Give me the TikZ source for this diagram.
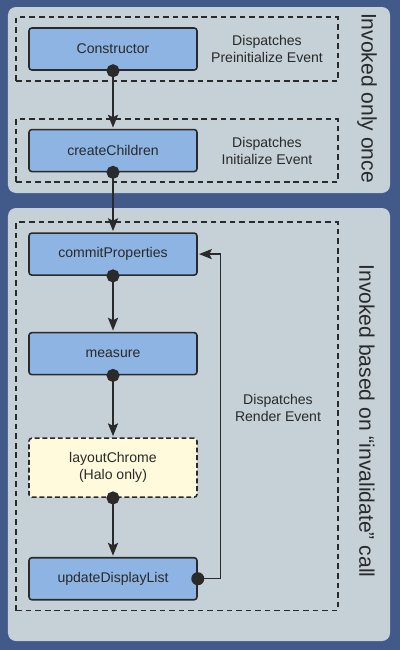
\documentclass[tikz,border=0pt]{standalone}
\usepackage{fontspec}
\setmainfont{Liberation Sans}
\usepackage{tikz}
\usetikzlibrary{arrows.meta,positioning,calc,fit,backgrounds}

\definecolor{frameblue}{HTML}{425A8A}
\definecolor{panelgray}{HTML}{C5D0D7}
\definecolor{stepblue}{HTML}{8DB4E2}
\definecolor{haloyellow}{HTML}{FFFADC}
\definecolor{inkgray}{HTML}{2A2A2A}

\begin{document}
\begin{tikzpicture}[
    font=\fontsize{10}{12}\selectfont,
    node distance=1.45cm,
    method/.style={rectangle, draw=inkgray, line width=1.1pt, fill=stepblue, text=inkgray, minimum width=4.2cm, minimum height=1.05cm, rounded corners=2pt, align=center},
    optional/.style={method, fill=haloyellow, dash pattern=on 3.5pt off 2pt, minimum height=1.475cm},
    note/.style={text=inkgray, align=center},
    group/.style={draw=inkgray, line width=1.2pt, dash pattern=on 4pt off 2.8pt, inner xsep=0.3cm, inner ysep=0.25cm},
    side/.style={text=inkgray, rotate=-90, font=\fontsize{15}{18}\selectfont},
    flow/.style={{Circle[length=0.325cm]}-{Stealth[length=0.32cm,width=0.25cm,inset=0.06cm]}, shorten <=-0.1625cm, shorten >=0.03cm, line width=1.5pt, draw=inkgray},
    loopback/.style={flow, line width=1pt}
]
\useasboundingbox (0,0) rectangle (10,-16.25);

% Invoked only once
\node[method] (constructor) at (2.825,-1.225) {Constructor};
\node[method, below=of constructor] (createchildren) {createChildren};
\node[note] (preinit) at ($(constructor)+(3.85,0)$) {Dispatches\\Preinitialize Event};
\node[note] (init) at ($(createchildren)+(3.85,0)$) {Dispatches\\Initialize Event};

% Invoked on invalidate
\node[method, below=1.5cm of createchildren] (commit) {commitProperties};
\node[method, below=1.4cm of commit] (measure) {measure};
\node[optional, below=1.55cm of measure] (layout) {layoutChrome\\(Halo only)};
\node[method, below=1.475cm of layout] (update) {updateDisplayList};
\node[note] (render) at (6.95,-10.2) {Dispatches\\Render Event};

% Side labels
\node[side] (oncelabel) at (9.175,-2.45) {Invoked only once};
\node[side] (invalidlabel) at (9.175,-10.525) {Invoked based on “invalidate” call};

% Dashed groups
\coordinate (rim) at (8.15,0);
\node[group, fit=(constructor)(constructor -| rim)] (preinitgroup) {};
\node[group, fit=(createchildren)(createchildren -| rim)] (initgroup) {};
\node[group, fit=(commit)(update)(commit -| rim)] (rendergroup) {};

% Connections
\draw[flow] (constructor.south) -- (createchildren.north);
\draw[flow] (createchildren.south) -- (commit.north);
\draw[flow] (commit.south) -- (measure.north);
\draw[flow] (measure.south) -- (layout.north);
\draw[flow] (layout.south) -- (update.north);
\draw[loopback] (update.east) -- ++(0.575,0) |- (commit.east);

% Background panels
\begin{scope}[on background layer]
    \fill[frameblue] (0,0) rectangle (10,-16.25);
    \fill[panelgray, rounded corners=0.2cm] (0.2,-0.175) rectangle (9.75,-4.825);
    \fill[panelgray, rounded corners=0.2cm] (0.2,-5.2) rectangle (9.75,-16.025);
\end{scope}

\end{tikzpicture}
\end{document}
